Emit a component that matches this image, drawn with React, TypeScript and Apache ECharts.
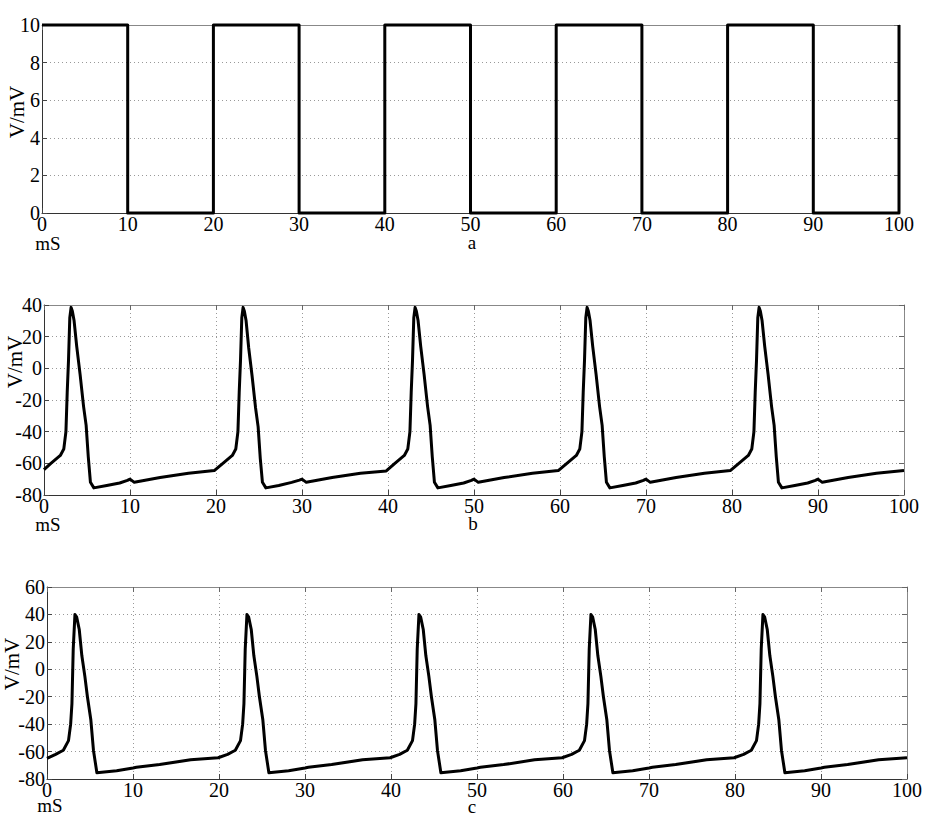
import React, { useEffect, useRef } from "react";
import * as echarts from "echarts";

// ---- data ----
const xTicks = { min: 0, max: 100, interval: 10 };
const yRangeA = { min: 0, max: 10, interval: 2 };
const yRangeB = { min: -80, max: 40, interval: 20 };
const yRangeC = { min: -80, max: 60, interval: 20 };

const stimulusA: [number, number][] = [
  [0, 10], [10, 10], [10, 0], [20, 0], [20, 10], [30, 10], [30, 0], [40, 0], [40, 10],
  [50, 10], [50, 0], [60, 0], [60, 10], [70, 10], [70, 0], [80, 0], [80, 10],
  [90, 10], [90, 0], [100, 0], [100, 10],
];

const traceB: [number, number][] = [
  [0, -64], [0.8, -60], [1.9, -55], [2.3, -51], [2.55, -40], [2.7, -15], [2.85, 5], [3.0, 32], [3.15, 38.5], [3.3, 36], [3.5, 30], [3.8, 14], [4.2, -4], [4.6, -24], [4.9, -36], [5.15, -56], [5.4, -72], [5.8, -75.5], [7.3, -74], [8.8, -72.4], [9.7, -70.8], [10, -70], [10.5, -72], [13.5, -69], [16.8, -66.3], [19.8, -64.6],
  [20.8, -60], [21.9, -55], [22.3, -51], [22.55, -40], [22.7, -15], [22.85, 5], [23.0, 32], [23.15, 38.5], [23.3, 36], [23.5, 30], [23.8, 13], [24.2, -5], [24.6, -25], [24.9, -37], [25.15, -57], [25.4, -72], [25.8, -75.5], [27.3, -74], [28.8, -72], [29.7, -70.6], [30, -70], [30.5, -72], [33.5, -69], [36.8, -66.2], [39.8, -64.8],
  [40.8, -60], [41.9, -55], [42.3, -51], [42.55, -40], [42.7, -15], [42.85, 5], [43.0, 32], [43.15, 38.5], [43.3, 36], [43.5, 30], [43.8, 14], [44.2, -4], [44.6, -24], [44.9, -36], [45.15, -56], [45.4, -72], [45.8, -75.5], [47.3, -74], [48.8, -72.4], [49.7, -70.8], [50, -70], [50.5, -72], [53.5, -69], [56.8, -66.3], [59.8, -64.6],
  [60.8, -60], [61.9, -55], [62.3, -51], [62.55, -40], [62.7, -15], [62.85, 5], [63.0, 32], [63.15, 38.5], [63.3, 36], [63.5, 30], [63.8, 14], [64.2, -4], [64.6, -24], [64.9, -36], [65.15, -56], [65.4, -72], [65.8, -75.5], [67.3, -74], [68.8, -72.4], [69.7, -70.8], [70, -70], [70.5, -72], [73.5, -69], [76.8, -66.3], [79.8, -64.6],
  [80.8, -60], [81.9, -55], [82.3, -51], [82.55, -40], [82.7, -15], [82.85, 5], [83.0, 32], [83.15, 38.5], [83.3, 36], [83.5, 30], [83.8, 14], [84.2, -4], [84.6, -24], [84.9, -36], [85.15, -56], [85.4, -72], [85.8, -75.5], [87.3, -74], [88.8, -72.4], [89.7, -70.8], [90, -70], [90.5, -72], [93.5, -69], [96.8, -66.3], [100, -64.5],
];

const traceC: [number, number][] = [
  [0, -65], [1, -62], [1.9, -59], [2.5, -52], [2.75, -40], [2.9, -25], [3.05, 15], [3.25, 40], [3.45, 38], [3.75, 29], [4.05, 10], [4.4, -5], [4.7, -20], [5.1, -37], [5.4, -59], [5.8, -75.5], [8.1, -74], [10, -72], [10.4, -71.5], [13.1, -69.5], [16.7, -66], [19.9, -64.5],
  [21, -62], [21.9, -59], [22.5, -52], [22.75, -40], [22.9, -25], [23.05, 15], [23.25, 40], [23.45, 38], [23.75, 29], [24.05, 10], [24.4, -5], [24.7, -20], [25.1, -37], [25.4, -59], [25.8, -75.5], [28.1, -74], [30, -72], [30.4, -71.5], [33.1, -69.5], [36.7, -66], [39.9, -64.5],
  [41, -62], [41.9, -59], [42.5, -52], [42.75, -40], [42.9, -25], [43.05, 15], [43.25, 40], [43.45, 38], [43.75, 29], [44.05, 10], [44.4, -5], [44.7, -20], [45.1, -37], [45.4, -59], [45.8, -75.5], [48.1, -74], [50, -72], [50.4, -71.5], [53.1, -69.5], [56.7, -66], [59.9, -64.5],
  [61, -62], [61.9, -59], [62.5, -52], [62.75, -40], [62.9, -25], [63.05, 15], [63.25, 40], [63.45, 38], [63.75, 29], [64.05, 10], [64.4, -5], [64.7, -20], [65.1, -37], [65.4, -59], [65.8, -75.5], [68.1, -74], [70, -72], [70.4, -71.5], [73.1, -69.5], [76.7, -66], [79.9, -64.5],
  [81, -62], [81.9, -59], [82.5, -52], [82.75, -40], [82.9, -25], [83.05, 15], [83.25, 40], [83.45, 38], [83.75, 29], [84.05, 10], [84.4, -5], [84.7, -20], [85.1, -37], [85.4, -59], [85.8, -75.5], [88.1, -74], [90, -72], [90.4, -71.5], [93.1, -69.5], [96.7, -66], [100, -64.5],
];

const yAxisTitle = "V/mV";
const xAxisTitle = "mS";
const panelLetters = ["a", "b", "c"];

const FONT = "Liberation Serif";

export default function App() {
  const ref = useRef<HTMLDivElement>(null);

  useEffect(() => {
    if (!ref.current) return;
    const chart = echarts.init(ref.current, undefined, { renderer: "svg" });

    const grids = [
      { left: 42, top: 25, width: 857, height: 188 },
      { left: 44, top: 305, width: 860, height: 190 },
      { left: 47, top: 587, width: 860, height: 192 },
    ];
    const yRanges = [yRangeA, yRangeB, yRangeC];
    const datasets = [stimulusA, traceB, traceC];

    const tickStyle = { inside: true, length: 5, lineStyle: { color: "#444", width: 1 } };
    const split = { show: true, lineStyle: { type: [1, 3] as any, color: "#999", width: 1 } };
    const label = { fontFamily: FONT, fontSize: 20, color: "#000" };

    const xAxis: any[] = [];
    const yAxis: any[] = [];
    grids.forEach((_, i) => {
      xAxis.push({
        type: "value", gridIndex: i, ...xTicks, position: "bottom",
        axisLine: { show: true, onZero: false, lineStyle: { color: "#333", width: 1 } },
        axisTick: tickStyle,
        axisLabel: { ...label, margin: 1 },
        splitLine: split,
      });
      yAxis.push({
        type: "value", gridIndex: i, ...yRanges[i], position: "left",
        axisLine: { show: true, onZero: false, lineStyle: { color: "#333", width: 1 } },
        axisTick: tickStyle,
        axisLabel: { ...label, margin: 2 },
        splitLine: split,
      });
    });
    grids.forEach((_, i) => {
      xAxis.push({
        type: "value", gridIndex: i, ...xTicks, position: "top",
        axisLine: { show: true, onZero: false, lineStyle: { color: "#888", width: 1 } },
        axisTick: { ...tickStyle, lineStyle: { color: "#666", width: 1 } },
        axisLabel: { show: false },
        splitLine: { show: false },
      });
      yAxis.push({
        type: "value", gridIndex: i, ...yRanges[i], position: "right",
        axisLine: { show: true, onZero: false, lineStyle: { color: "#888", width: 1 } },
        axisTick: { ...tickStyle, lineStyle: { color: "#666", width: 1 } },
        axisLabel: { show: false },
        splitLine: { show: false },
      });
    });

    const series = datasets.map((d, i) => ({
      type: "line",
      xAxisIndex: i,
      yAxisIndex: i,
      data: d,
      showSymbol: false,
      symbol: "none",
      clip: false,
      lineStyle: { color: "#000", width: 3, join: "round" },
      z: 5,
    }));

    const vLabelPos = [
      { x: 17, y: 112 },
      { x: 15, y: 362 },
      { x: 12, y: 664 },
    ];
    const mSPos = [
      { x: 48, y: 243 },
      { x: 48, y: 524 },
      { x: 50, y: 805 },
    ];
    const letterPos = [
      { x: 472, y: 242 },
      { x: 473, y: 523 },
      { x: 472, y: 806 },
    ];

    const graphic: any[] = [];
    for (let i = 0; i < 3; i++) {
      graphic.push({
        type: "text", x: vLabelPos[i].x, y: vLabelPos[i].y, rotation: Math.PI / 2,
        style: { text: yAxisTitle, fontFamily: FONT, fontSize: 21, fill: "#000", align: "center", verticalAlign: "middle" },
      });
      graphic.push({
        type: "text", x: mSPos[i].x, y: mSPos[i].y,
        style: { text: xAxisTitle, fontFamily: FONT, fontSize: 19, fill: "#000", align: "center", verticalAlign: "middle" },
      });
      graphic.push({
        type: "text", x: letterPos[i].x, y: letterPos[i].y,
        style: { text: panelLetters[i], fontFamily: FONT, fontSize: 19, fill: "#000", align: "center", verticalAlign: "middle" },
      });
    }

    chart.setOption({
      animation: false,
      backgroundColor: "#fff",
      grid: grids,
      xAxis,
      yAxis,
      series,
      graphic,
    });

    return () => chart.dispose();
  }, []);

  return (
    <div
      ref={ref}
      style={{ position: "fixed", left: 0, top: 0, width: 935, height: 816, background: "#fff" }}
    />
  );
}
